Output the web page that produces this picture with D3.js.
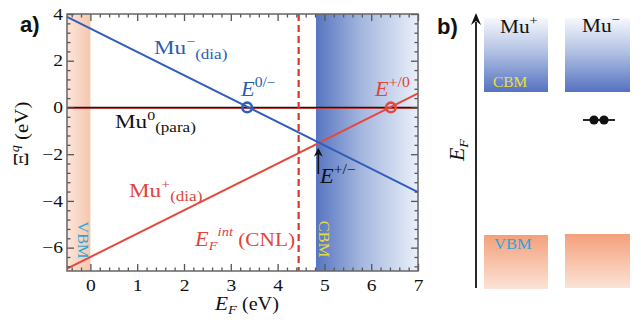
<!DOCTYPE html>
<html><head><meta charset="utf-8">
<script src="https://cdn.jsdelivr.net/npm/d3@7"></script>
<style>body{margin:0;background:#fff}svg{display:block}</style>
</head><body>
<script>
// ---- data ----
const xTicks = [0,1,2,3,4,5,6,7];
const yTicks = [-6,-4,-2,0,2,4];
const xMinor = [-0.4,-0.2,0.2,0.4,0.6,0.8,1.2,1.4,1.6,1.8,2.2,2.4,2.6,2.8,3.2,3.4,3.6,3.8,4.2,4.4,4.6,4.8,5.2,5.4,5.6,5.8,6.2,6.4,6.6,6.8];
const yMinor = [-6.8,-6.4,-5.6,-5.2,-4.8,-4.4,-3.6,-3.2,-2.8,-2.4,-1.6,-1.2,-0.8,-0.4,0.4,0.8,1.2,1.6,2.4,2.8,3.2,3.6];
const muMinusLine = [{x:-0.5,y:3.88},{x:7,y:-3.62}];
const muPlusLine  = [{x:-0.5,y:-6.9},{x:7,y:0.6}];
const muZeroLine  = [{x:-0.5,y:0},{x:7,y:0}];
const vbmBand = [-0.5, 0];
const cbmBand = [4.82, 7];
const cnl = 4.45;
const transitions = [{x:3.35,y:0,c:"#2f5fb8"},{x:6.42,y:0,c:"#e8473d"}];
const arrowPts = {x:4.87, y0:-2.85, y1:-1.72};

const SERIF='"Liberation Serif","Times New Roman",Times,"DejaVu Serif",serif';
const W=641,H=322;
const svg=d3.select("body").append("svg").attr("width",W).attr("height",H);
const defs=svg.append("defs");
const x=d3.scaleLinear().domain([-0.5,7]).range([67,418]);
const y=d3.scaleLinear().domain([-7,4]).range([271,14]);
const SX=1.22;

function grad(id,x1,y1,x2,y2,stops){
  const g=defs.append("linearGradient").attr("id",id).attr("x1",x1).attr("y1",y1).attr("x2",x2).attr("y2",y2);
  stops.forEach(s=>g.append("stop").attr("offset",s[0]).attr("stop-color",s[1]));
}
grad("cbmA","0","0","1","0",[[0,"#5775c1"],[0.45,"#a5b7df"],[1,"#eaf0f9"]]);
grad("vbmA","0","0","1","0",[[0,"#fce6da"],[1,"#f6c6ad"]]);
grad("cbmB","0","0","0","1",[[0,"#f6f8fc"],[0.45,"#b3c2e4"],[1,"#5472bf"]]);
grad("vbmB","0","0","0","1",[[0,"#f4a07b"],[1,"#fbe3d6"]]);

function rich(g,px,py,parts,opt={}){
  const t=g.append("text").attr("transform",`translate(${px},${py})${opt.rot?` rotate(${opt.rot})`:""} scale(${opt.sx||SX},1)`)
    .attr("fill",opt.fill||"#111").style("font-family",SERIF);
  if(opt.anchor) t.attr("text-anchor",opt.anchor);
  let cur=0;
  parts.forEach(p=>{
    const s=t.append("tspan").text(p.t).style("font-size",(p.size||19)+"px");
    const dy=(p.dy||0)-cur; cur=(p.dy||0);
    if(dy) s.attr("dy",dy);
    if(p.i) s.style("font-style","italic");
    if(p.w) s.style("font-weight",p.w);
    if(p.f) s.style("font-family",p.f);
  });
  return t;
}

// bands
const gA=svg.append("g");
gA.append("rect").attr("x",x(vbmBand[0])).attr("y",y(4)).attr("width",x(vbmBand[1])-x(vbmBand[0])).attr("height",y(-7)-y(4)).attr("fill","url(#vbmA)");
gA.append("rect").attr("x",x(cbmBand[0])).attr("y",y(4)).attr("width",x(cbmBand[1])-x(cbmBand[0])).attr("height",y(-7)-y(4)).attr("fill","url(#cbmA)");

// lines
const line=d3.line().x(d=>x(d.x)).y(d=>y(d.y));
gA.append("path").attr("d",line(muZeroLine)).attr("stroke","#e8473d").attr("stroke-width",1).attr("fill","none").attr("transform","translate(0,1)");
gA.append("path").attr("d",line(muZeroLine)).attr("stroke","#1a1a1a").attr("stroke-width",1.6).attr("fill","none");
gA.append("path").attr("d",line(muPlusLine)).attr("stroke","#e8473d").attr("stroke-width",2).attr("fill","none");
gA.append("path").attr("d",line(muMinusLine)).attr("stroke","#2f5fb8").attr("stroke-width",2).attr("fill","none");
gA.append("line").attr("x1",x(cnl)).attr("x2",x(cnl)).attr("y1",y(4)).attr("y2",y(-7)).attr("stroke","#d8382d").attr("stroke-width",2.2).attr("stroke-dasharray","7,4");
gA.selectAll("circle.tr").data(transitions).join("circle").attr("class","tr").attr("cx",d=>x(d.x)).attr("cy",d=>y(d.y)).attr("r",4.8).attr("fill","none").attr("stroke",d=>d.c).attr("stroke-width",2.6);

// arrow
gA.append("line").attr("x1",x(arrowPts.x)).attr("x2",x(arrowPts.x)).attr("y1",y(arrowPts.y0)).attr("y2",y(arrowPts.y1)+4).attr("stroke","#111").attr("stroke-width",1.6);
gA.append("path").attr("d",`M${x(arrowPts.x)},${y(arrowPts.y1)} l-4.5,9 l4.5,-3 l4.5,3 z`).attr("fill","#111");

// axes
const tc="#555";
function styleAxis(g){g.select(".domain").remove();g.selectAll("line").attr("stroke",tc).attr("stroke-width",1.3);}
const axBot=svg.append("g").attr("transform","translate(0,271)").call(d3.axisBottom(x).tickValues(xTicks).tickSizeInner(-7).tickSizeOuter(0).tickPadding(8.3).tickFormat(d3.format("d")));
const axTop=svg.append("g").attr("transform","translate(0,14)").call(d3.axisTop(x).tickValues(xTicks).tickSizeInner(-7).tickSizeOuter(0).tickFormat(""));
const axLeft=svg.append("g").attr("transform","translate(67,0)").call(d3.axisLeft(y).tickValues(yTicks).tickSizeInner(-7).tickSizeOuter(0).tickPadding(4).tickFormat(d3.format("d")));
const axRight=svg.append("g").attr("transform","translate(418,0)").call(d3.axisRight(y).tickValues(yTicks).tickSizeInner(-7).tickSizeOuter(0).tickFormat(""));
svg.append("g").attr("transform","translate(0,271)").call(d3.axisBottom(x).tickValues(xMinor).tickSizeInner(-3.5).tickSizeOuter(0).tickFormat("")).call(styleAxis);
svg.append("g").attr("transform","translate(0,14)").call(d3.axisTop(x).tickValues(xMinor).tickSizeInner(-3.5).tickSizeOuter(0).tickFormat("")).call(styleAxis);
svg.append("g").attr("transform","translate(67,0)").call(d3.axisLeft(y).tickValues(yMinor).tickSizeInner(-3.5).tickSizeOuter(0).tickFormat("")).call(styleAxis);
svg.append("g").attr("transform","translate(418,0)").call(d3.axisRight(y).tickValues(yMinor).tickSizeInner(-3.5).tickSizeOuter(0).tickFormat("")).call(styleAxis);
[axBot,axTop,axLeft,axRight].forEach(styleAxis);
[axBot,axLeft].forEach(g=>{g.attr("font-family",null);g.selectAll("text").style("font-family",SERIF).style("font-size","16px").attr("fill","#111");});
axBot.selectAll("text").attr("transform",`scale(${SX},1)`);
axLeft.selectAll("text").attr("transform",`translate(-4,0) scale(${SX},1) translate(4,0)`);
svg.append("rect").attr("x",67).attr("y",14).attr("width",351).attr("height",257).attr("fill","none").attr("stroke","#666").attr("stroke-width",1.5);

// labels panel a
const blue="#2c5db5", red="#e0443a";
rich(svg,20,32,[{t:"a)",size:22,w:"bold",f:'"Liberation Sans",Arial,sans-serif'}],{sx:1});
rich(svg,154,54,[{t:"Mu",size:19},{t:"\u2212",size:13,dy:-8},{t:"(dia)",size:14,dy:5}],{fill:blue});
rich(svg,115,128,[{t:"Mu",size:19},{t:"0",size:13,dy:-8},{t:"(para)",size:14,dy:4}],{fill:"#111"});
rich(svg,129,197,[{t:"Mu",size:19},{t:"+",size:13,dy:-8},{t:"(dia)",size:14,dy:4}],{fill:red});
rich(svg,241,96,[{t:"E",size:20,i:1},{t:"0/\u2212",size:14,dy:-9}],{fill:blue,sx:1.12});
rich(svg,375,96,[{t:"E",size:20,i:1},{t:"+/0",size:14,dy:-9}],{fill:red,sx:1.12});
rich(svg,195,246,[{t:"E",size:20,i:1},{t:"F",size:13,i:1,dy:4},{t:"int",size:13,i:1,dy:-10},{t:" (CNL)",size:19,dy:0}],{fill:red,sx:1.12});
rich(svg,320,183,[{t:"E",size:20,i:1},{t:"+/\u2212",size:14,dy:-9}],{fill:"#111",sx:1.12});
rich(svg,215,310,[{t:"E",size:19,i:1},{t:"F",size:13,i:1,dy:4},{t:" (eV)",size:18,dy:0}],{fill:"#111",sx:1.12});
rich(svg,28,134,[{t:"\u039E",size:20},{t:"q",size:13,i:1,dy:-9},{t:" (eV)",size:19,dy:0}],{fill:"#111",rot:-90,anchor:"middle",sx:1.1});
rich(svg,78,240,[{t:"VBM",size:15}],{fill:"#2aa6dc",rot:90,anchor:"middle",sx:1.1});
rich(svg,319,239,[{t:"CBM",size:15}],{fill:"#e4dc3c",rot:90,anchor:"middle",sx:1.1});

// panel b
const gB=svg.append("g");
rich(gB,437,34,[{t:"b)",size:22,w:"bold",f:'"Liberation Sans",Arial,sans-serif'}],{sx:1});
gB.append("line").attr("x1",476).attr("x2",476).attr("y1",288).attr("y2",22).attr("stroke","#111").attr("stroke-width",1.8);
gB.append("path").attr("d","M476,13 l-5,12 l5,-4 l5,4 z").attr("fill","#111");
rich(gB,464,150,[{t:"E",size:20,i:1},{t:"F",size:13,i:1,dy:4}],{fill:"#111",rot:-90,anchor:"middle",sx:1.1});
const boxes=[{x:484,w:64,cy:18,ch:74,vy:235,vh:54},{x:565,w:65,cy:18,ch:74,vy:234,vh:54}];
gB.selectAll("rect.c").data(boxes).join("rect").attr("class","c").attr("x",d=>d.x).attr("y",d=>d.cy).attr("width",d=>d.w).attr("height",d=>d.ch).attr("fill","url(#cbmB)");
gB.selectAll("rect.v").data(boxes).join("rect").attr("class","v").attr("x",d=>d.x).attr("y",d=>d.vy).attr("width",d=>d.w).attr("height",d=>d.vh).attr("fill","url(#vbmB)");
rich(gB,500,33,[{t:"Mu",size:19},{t:"+",size:13,dy:-8}],{fill:"#111",sx:1.12});
rich(gB,582,32,[{t:"Mu",size:19},{t:"\u2212",size:13,dy:-8}],{fill:"#111",sx:1.12});
rich(gB,493,87,[{t:"CBM",size:14}],{fill:"#e8e040",sx:1.1});
rich(gB,494,249,[{t:"VBM",size:15}],{fill:"#2aa6dc",sx:1.1});
gB.append("line").attr("x1",583).attr("x2",615).attr("y1",120).attr("y2",120).attr("stroke","#111").attr("stroke-width",1.8);
gB.selectAll("circle.e").data([594,604]).join("circle").attr("class","e").attr("cx",d=>d).attr("cy",120).attr("r",4.6).attr("fill","#111");
</script>
</body></html>
